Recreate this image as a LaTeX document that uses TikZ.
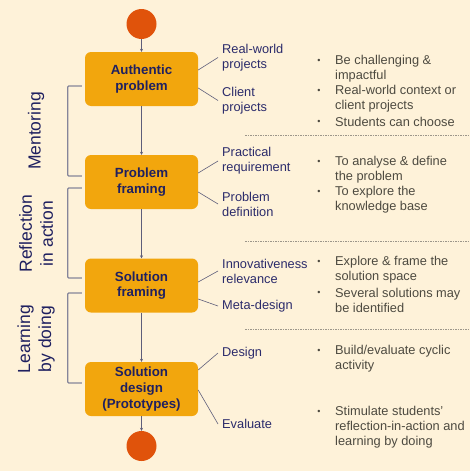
\documentclass[tikz,border=0pt]{standalone}
\usepackage{fontspec}
\setmainfont{Liberation Sans}
\usetikzlibrary{arrows.meta}
\definecolor{bgcream}{HTML}{FEF2D9}
\definecolor{boxorange}{HTML}{F2A60D}
\definecolor{dotred}{HTML}{E0530B}
\definecolor{navy}{HTML}{1F2060}
\definecolor{labelblue}{HTML}{2B2B6B}
\definecolor{bulletgray}{HTML}{4D4A40}
\definecolor{linegray}{HTML}{5E5E7A}
\definecolor{bracegray}{HTML}{85859A}
\definecolor{dashgray}{HTML}{9C968A}

\begin{document}
\begin{tikzpicture}[x=1pt,y=1pt,
    stage/.style={fill=boxorange,rounded corners=6pt,minimum width=113pt,minimum height=54pt,
        inner sep=0pt,align=center,text=navy,font=\fontsize{13.3}{15.8}\selectfont\bfseries},
    endpt/.style={circle,fill=dotred,minimum size=30pt,inner sep=0pt},
    flow/.style={-{Stealth[length=3pt,width=3pt]},draw=linegray,line width=0.8pt},
    tagtext/.style={anchor=west,align=left,inner sep=0pt,text=labelblue,font=\fontsize{12.8}{15}\selectfont},
    link/.style={draw=linegray,line width=0.6pt},
    pointtext/.style={anchor=west,align=left,inner sep=0pt,text=bulletgray,font=\fontsize{12.8}{15}\selectfont},
    bulletdot/.style={inner sep=0pt,text=bulletgray,font=\fontsize{9}{9}\selectfont},
    phase/.style={rotate=90,align=center,text=navy,font=\fontsize{17.5}{21}\selectfont},
    brace/.style={draw=bracegray,line width=1.2pt,rounded corners=1pt},
    divider/.style={draw=dashgray,line width=0.6pt,dash pattern=on 1.5pt off 1pt}]

    % Background
    \fill[bgcream] (0,0) rectangle (470,-471);
    \useasboundingbox (0,0) rectangle (470,-471);

    % Flow of stages
    \node[endpt] (start) at (141.5,-24) {};
    \node[stage] (auth) at (141.5,-79) {Authentic\\problem};
    \node[stage] (frame) at (141.5,-182) {Problem\\framing};
    \node[stage] (sfram) at (141.5,-285.5) {Solution\\framing};
    \node[stage] (sdes) at (141.5,-389) {Solution\\design\\(Prototypes)};
    \node[endpt] (stop) at (141.5,-446) {};
    \draw[flow] (start) -- (auth);
    \draw[flow] (auth) -- (frame);
    \draw[flow] (frame) -- (sfram);
    \draw[flow] (sfram) -- (sdes);
    \draw[flow] (sdes) -- (stop);

    % Phases on the left
    \node[phase] (ment) at (36,-131) {Mentoring};
    \node[phase] (refl) at (36,-233.5) {Reflection\\in action};
    \node[phase] (learn) at (36,-339) {Learning\\by doing};
    \draw[brace] ([shift={(-3,-7)}]auth.west) -- ++(-14,0) |- ([shift={(-3,6)}]frame.west);
    \draw[brace] ([shift={(-3,-6)}]frame.west) -- ++(-14,0) |- ([shift={(-3,7.5)}]sfram.west);
    \draw[brace] ([shift={(-3,-7.5)}]sfram.west) -- ++(-14,0) |- ([shift={(-3,6)}]sdes.west);

    % Stage 1: Authentic problem
    \node[tagtext] (t11) at (222,-57.5) {Real-world\\projects};
    \node[tagtext] (t12) at (222,-100.5) {Client\\projects};
    \draw[link] ([yshift=9pt]auth.east) -- ([xshift=-4pt]t11.west);
    \draw[link] ([yshift=-9pt]auth.east) -- ([xshift=-4pt]t12.west);
    \node[bulletdot] (d11) at (319,-61) {\textbullet};
    \node[pointtext] (p11) at (335,-68.5) {Be challenging \&\\impactful};
    \node[bulletdot] (d12) at (319,-91) {\textbullet};
    \node[pointtext] (p12) at (335,-99) {Real-world context or\\client projects};
    \node[bulletdot] (d13) at (319,-122) {\textbullet};
    \node[pointtext] (p13) at (335,-122) {Students can choose};
    \draw[divider] (245,-135) -- (470,-135);

    % Stage 2: Problem framing
    \node[tagtext] (t21) at (222,-161) {Practical\\requirement};
    \node[tagtext] (t22) at (222,-204) {Problem\\definition};
    \draw[link] ([yshift=9pt]frame.east) -- ([xshift=-4pt]t21.west);
    \draw[link] ([yshift=-10pt]frame.east) -- ([xshift=-4pt]t22.west);
    \node[bulletdot] (d21) at (319,-162) {\textbullet};
    \node[pointtext] (p21) at (335,-169.5) {To analyse \& define\\the problem};
    \node[bulletdot] (d22) at (319,-192) {\textbullet};
    \node[pointtext] (p22) at (335,-199.5) {To explore the\\knowledge base};
    \draw[divider] (245,-241) -- (470,-241);

    % Stage 3: Solution framing
    \node[tagtext] (t31) at (222,-271) {Innovativeness\\relevance};
    \node[tagtext] (t32) at (222,-306) {Meta-design};
    \draw[link] ([yshift=3.5pt]sfram.east) -- ([xshift=-4pt]t31.west);
    \draw[link] ([yshift=-13.5pt]sfram.east) -- ([xshift=-4pt]t32.west);
    \node[bulletdot] (d31) at (319,-262) {\textbullet};
    \node[pointtext] (p31) at (335,-269.5) {Explore \& frame the\\solution space};
    \node[bulletdot] (d32) at (319,-293) {\textbullet};
    \node[pointtext] (p32) at (335,-300) {Several solutions may\\be identified};
    \draw[divider] (245,-329) -- (470,-329);

    % Stage 4: Solution design
    \node[tagtext] (t41) at (222,-353) {Design};
    \node[tagtext] (t42) at (222,-424) {Evaluate};
    \draw[link] ([yshift=19pt]sdes.east) -- ([xshift=-4pt]t41.west);
    \draw[link] ([yshift=-1pt]sdes.east) -- ([xshift=-4pt]t42.west);
    \node[bulletdot] (d41) at (319,-351) {\textbullet};
    \node[pointtext] (p41) at (335,-358.5) {Build/evaluate cyclic\\activity};
    \node[bulletdot] (d42) at (319,-412) {\textbullet};
    \node[pointtext] (p42) at (335,-427) {Stimulate students’\\reflection-in-action and\\learning by doing};
\end{tikzpicture}
\end{document}
